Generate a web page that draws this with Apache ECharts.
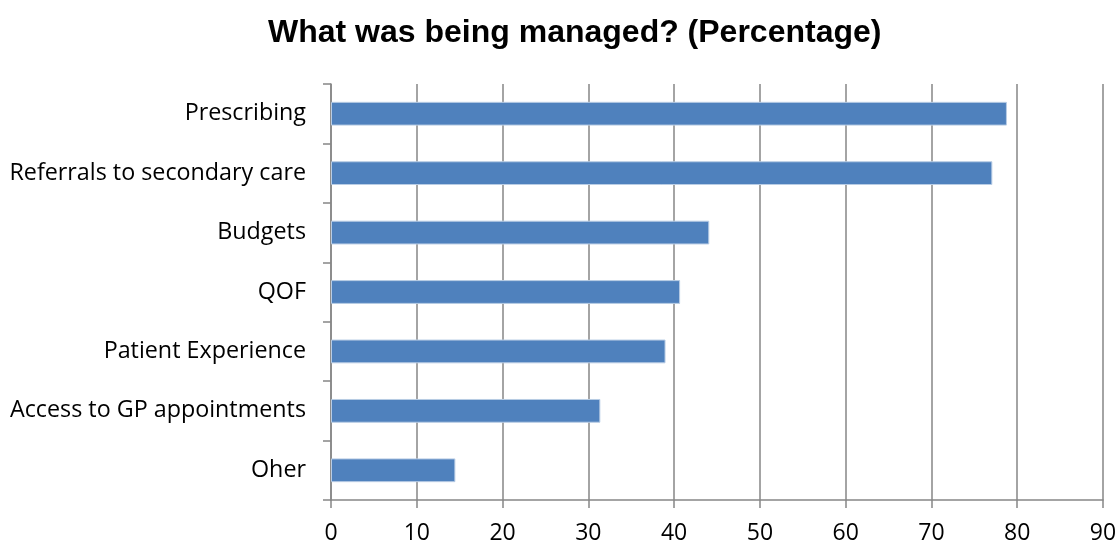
<!DOCTYPE html>
<html>
<head>
<meta charset="utf-8">
<script src="https://cdn.jsdelivr.net/npm/echarts@6/dist/echarts.min.js"></script>
<style>html,body{margin:0;padding:0;background:#fff}#c{width:1117px;height:545px}</style>
</head>
<body>
<div id="c"></div>
<script>
const categories = ["Prescribing", "Referrals to secondary care", "Budgets", "QOF", "Patient Experience", "Access to GP appointments", "Oher"];
const values = [78.8, 77.1, 44.1, 40.7, 39.0, 31.4, 14.5];
const xTicks = [0, 10, 20, 30, 40, 50, 60, 70, 80, 90];

const chart = echarts.init(document.getElementById('c'));
const gridColor = '#868686';
chart.setOption({
  animation: false,
  title: {
    text: 'What was being managed? (Percentage)',
    left: 263, top: 12,
    textStyle: { fontFamily: 'Liberation Sans', fontWeight: 'bold', fontSize: 32, color: '#000' }
  },
  grid: { left: 331, right: 14, top: 84, bottom: 45, containLabel: false, outerBoundsMode: 'none' },
  xAxis: {
    type: 'value', min: xTicks[0], max: xTicks[xTicks.length - 1], interval: 10,
    axisLine: { show: true, lineStyle: { color: gridColor, width: 1.5 } },
    axisTick: { show: true, length: 8, lineStyle: { color: gridColor, width: 1.5 } },
    splitLine: { show: true, lineStyle: { color: gridColor, width: 1.5 } },
    axisLabel: { color: '#000', fontSize: 23, fontFamily: 'Open Sans', margin: 22, hideOverlap: false }
  },
  yAxis: {
    type: 'category', data: categories, inverse: true,
    axisLine: { show: true, lineStyle: { color: gridColor, width: 1.5 } },
    axisTick: { show: true, length: 8, lineStyle: { color: gridColor, width: 1.5 } },
    axisLabel: { color: '#000', fontSize: 23.3, fontFamily: 'Open Sans', margin: 25 }
  },
  series: [{
    type: 'bar', data: values, barCategoryGap: '60%',
    itemStyle: { color: '#4F81BD', borderColor: '#B9CDE5', borderWidth: 1 }
  }]
});
</script>
</body>
</html>
